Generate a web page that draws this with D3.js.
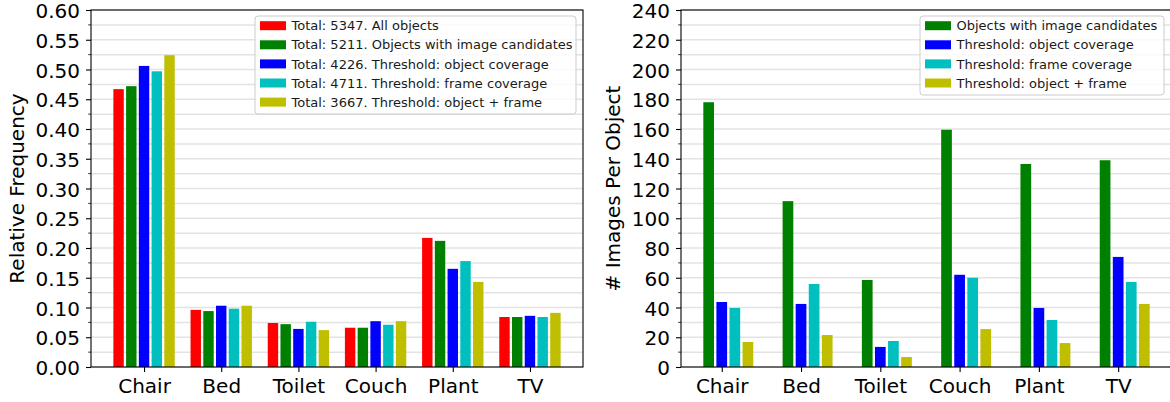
<!DOCTYPE html>
<html>
<head>
<meta charset="utf-8">
<script src="https://cdn.jsdelivr.net/npm/d3@7"></script>
<style>
  body { margin: 0; background: #fff; }
  svg { font-family: "DejaVu Sans", sans-serif; }
</style>
</head>
<body>
<svg id="chart" width="1170" height="402"></svg>
<script>
// categories and series
const categories = ["Chair", "Bed", "Toilet", "Couch", "Plant", "TV"];

const freqLabels = [
  "Total: 5347. All objects",
  "Total: 5211. Objects with image candidates",
  "Total: 4226. Threshold: object coverage",
  "Total: 4711. Threshold: frame coverage",
  "Total: 3667. Threshold: object + frame"
];
const freqAll       = [0.467, 0.096, 0.074, 0.066, 0.217, 0.084];
const freqCandidate = [0.472, 0.094, 0.072, 0.066, 0.212, 0.084];
const freqObjCov    = [0.506, 0.103, 0.064, 0.077, 0.165, 0.086];
const freqFrameCov  = [0.497, 0.098, 0.076, 0.071, 0.178, 0.084];
const freqBoth      = [0.524, 0.103, 0.062, 0.077, 0.143, 0.091];

const imgLabels = [
  "Objects with image candidates",
  "Threshold: object coverage",
  "Threshold: frame coverage",
  "Threshold: object + frame"
];
const imgCandidate = [178, 111.5, 58.5, 159.5, 136.5, 139];
const imgObjCov    = [43.7, 42.4, 13.5, 62, 39.7, 74];
const imgFrameCov  = [39.7, 55.8, 17.5, 60, 31.6, 57.2];
const imgBoth      = [16.8, 21.5, 6.7, 25.5, 16.1, 42.4];

const colors = ["#ff0000", "#008000", "#0000ff", "#00bfbf", "#bfbf00"];

const svg = d3.select("#chart");

function drawPanel(opts) {
  const { left, right, top, bottom, series, offsets, colorIdx, yMax, yMajor, yMinor, yFormat, yLabel, labels, legend } = opts;
  const step = 0.165, bw = 0.135;

  // matplotlib-style 5% x margins around the bars
  const lo = d3.min(offsets) * step - bw / 2;
  const hi = categories.length - 1 + d3.max(offsets) * step + bw / 2;
  const pad = (hi - lo) * 0.05;
  const x = d3.scaleLinear().domain([lo - pad, hi + pad]).range([left, right]);
  const y = d3.scaleLinear().domain([0, yMax]).range([bottom, top]);

  const g = svg.append("g");

  // clip for the plot area
  const clipId = "clip" + left;
  svg.append("clipPath").attr("id", clipId)
    .append("rect").attr("x", left).attr("y", top).attr("width", right - left).attr("height", bottom - top);

  // grid at major and minor ticks
  const gridVals = d3.range(0, yMax + 1e-9, yMinor);
  g.append("g").selectAll("line").data(gridVals).enter().append("line")
    .attr("x1", left).attr("x2", right)
    .attr("y1", d => y(d)).attr("y2", d => y(d))
    .attr("stroke", "#e3e3e3").attr("stroke-width", 1.5);

  // bars
  series.forEach((vals, s) => {
    g.append("g").attr("clip-path", `url(#${clipId})`)
      .selectAll("rect").data(vals).enter().append("rect")
      .attr("x", (d, i) => x(i + offsets[s] * step - bw / 2))
      .attr("width", x(bw) - x(0))
      .attr("y", d => y(d))
      .attr("height", d => y(0) - y(d))
      .attr("fill", colors[colorIdx[s]]);
  });

  // frame
  g.append("rect").attr("x", left).attr("y", top)
    .attr("width", right - left).attr("height", bottom - top)
    .attr("fill", "none").attr("stroke", "#000").attr("stroke-width", 1.1);

  // y axis
  const yAxis = d3.axisLeft(y).tickValues(d3.range(0, yMax + 1e-9, yMajor))
    .tickFormat(yFormat).tickSize(5).tickPadding(6);
  const ya = g.append("g").attr("transform", `translate(${left},0)`).call(yAxis);
  ya.select(".domain").remove();
  ya.selectAll("text").attr("font-size", 20).attr("dy", "0.38em")
    .attr("fill", "#000").attr("font-family", "DejaVu Sans");
  ya.selectAll("line").attr("stroke", "#000").attr("stroke-width", 1.1);
  const minorVals = gridVals.filter(v => Math.abs(v / yMajor - Math.round(v / yMajor)) > 1e-6);
  g.append("g").selectAll("line").data(minorVals).enter().append("line")
    .attr("x1", left - 2.8).attr("x2", left)
    .attr("y1", d => y(d)).attr("y2", d => y(d))
    .attr("stroke", "#000").attr("stroke-width", 0.8);

  // x axis
  const xAxis = d3.axisBottom(x).tickValues(d3.range(categories.length))
    .tickFormat(i => categories[i]).tickSize(5).tickPadding(7);
  const xa = g.append("g").attr("transform", `translate(0,${bottom})`).call(xAxis);
  xa.select(".domain").remove();
  xa.selectAll("text").attr("font-size", 20).attr("fill", "#000").attr("font-family", "DejaVu Sans");
  xa.selectAll("line").attr("stroke", "#000").attr("stroke-width", 1.1);

  // y label
  g.append("text")
    .attr("transform", `translate(${opts.yLabelX},${(top + bottom) / 2}) rotate(-90)`)
    .attr("text-anchor", "middle").attr("font-size", 20).attr("fill", "#000")
    .text(yLabel);

  // legend
  const lg = g.append("g");
  lg.append("rect").attr("x", legend.x).attr("y", legend.y)
    .attr("width", legend.w).attr("height", legend.h).attr("rx", 3)
    .attr("fill", "#fff").attr("fill-opacity", 0.8)
    .attr("stroke", "#cccccc").attr("stroke-width", 1);
  labels.forEach((lab, k) => {
    const cy = legend.y + 9.7 + k * 19.1;
    lg.append("rect").attr("x", legend.x + 5).attr("y", cy - 4.5)
      .attr("width", 26).attr("height", 9).attr("fill", colors[colorIdx[k]]);
    lg.append("text").attr("x", legend.x + 36.5).attr("y", cy + 4.6)
      .attr("font-size", 13).attr("fill", "#1a1a1a").text(lab);
  });
}

drawPanel({
  left: 91, right: 583, top: 10, bottom: 367,
  series: [freqAll, freqCandidate, freqObjCov, freqFrameCov, freqBoth],
  offsets: [-2, -1, 0, 1, 2], colorIdx: [0, 1, 2, 3, 4],
  yMax: 0.6, yMajor: 0.05, yMinor: 0.025, yFormat: d3.format(".2f"),
  yLabel: "Relative Frequency", yLabelX: 23.5,
  labels: freqLabels,
  legend: { x: 255, y: 16, w: 321, h: 98 }
});

drawPanel({
  left: 681, right: 1172, top: 10, bottom: 367,
  series: [imgCandidate, imgObjCov, imgFrameCov, imgBoth],
  offsets: [-1, 0, 1, 2], colorIdx: [1, 2, 3, 4],
  yMax: 240, yMajor: 20, yMinor: 10, yFormat: d3.format("d"),
  yLabel: "# Images Per Object", yLabelX: 619.5,
  labels: imgLabels,
  legend: { x: 920, y: 16, w: 244, h: 79 }
});
</script>
</body>
</html>
